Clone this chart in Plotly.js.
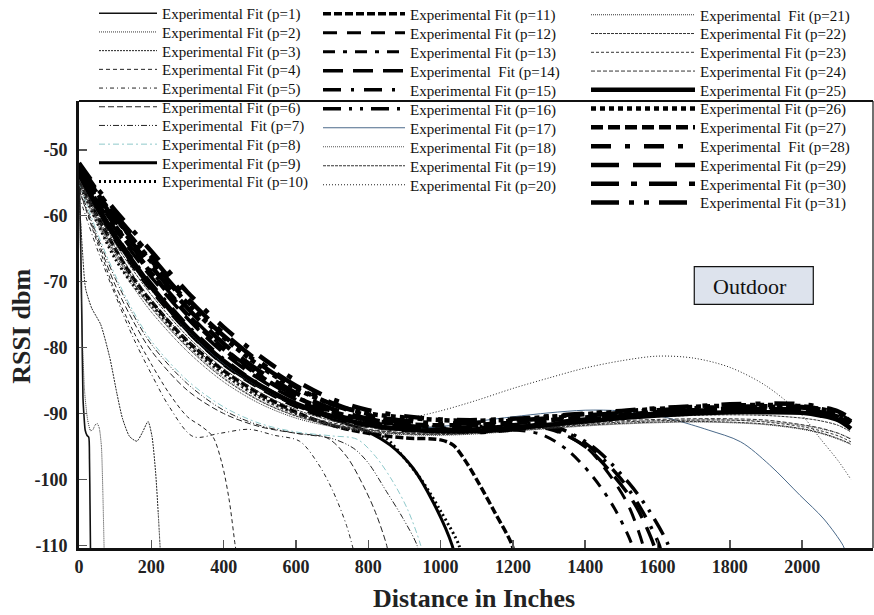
<!DOCTYPE html>
<html><head><meta charset="utf-8">
<script src="https://cdn.plot.ly/plotly-3.0.1.min.js"></script>
<style>html,body{margin:0;padding:0;background:#fff}#chart{width:874px;height:615px}</style>
</head><body><div id="chart"></div>
<script>
// ---------- DATA ----------
const xLong = [0, 50, 100, 150, 200, 300, 400, 500, 600, 700, 800, 900, 1000, 1100, 1200, 1300, 1400, 1500, 1600, 1700, 1800, 1900, 2000, 2050, 2100, 2135];

const p1_x = [0, 4, 8, 11, 14, 17, 22, 27, 29, 30.5, 32];
const p1_y = [-53, -62, -76, -87.6, -90.5, -92.5, -93.3, -93.6, -97, -104, -112];
const p2_x = [0, 5, 10, 16, 24, 32, 38, 44, 50, 56, 62, 66, 70];
const p2_y = [-54.5, -68, -80, -87, -91, -92.6, -92.5, -91.8, -91.5, -92.2, -95, -102, -112];
const p3_x = [0, 8, 18, 35, 60, 85, 105, 120, 140, 160, 176, 191, 202, 212, 219, 226];
const p3_y = [-57, -64, -71, -74, -76.5, -81.5, -87, -90.7, -93.5, -94.2, -92.8, -91.2, -93.5, -99, -105, -112];
const p4_x = [0, 50, 100, 150, 200, 250, 300, 340, 370, 395, 415, 432, 438];
const p4_y = [-56, -64, -71.5, -77.5, -82.5, -87, -90.5, -92, -93.5, -97.5, -103, -110, -112];
const p5_x = [0, 50, 100, 150, 200, 250, 316, 390, 470, 540, 610, 660, 700, 740, 765];
const p5_y = [-57, -65, -72, -78.5, -84, -89, -93.5, -93, -92.4, -93.3, -94.2, -97.5, -101.5, -107, -112];
const p6_x = [0, 50, 100, 150, 200, 300, 400, 500, 600, 686, 740, 786, 820, 851, 858];
const p6_y = [-56, -63.5, -70.5, -76, -80.5, -86.5, -90, -92, -93, -93.7, -96.5, -100.9, -105, -110, -112];
const p7_x = [0, 50, 100, 150, 200, 300, 400, 500, 600, 700, 760, 800, 850, 895, 935, 942];
const p7_y = [-55.5, -63, -69.5, -75, -79.5, -85.5, -89.5, -91.8, -93, -93.8, -95.3, -97.5, -101.8, -105.8, -110, -112];
const p8_x = [0, 50, 100, 150, 200, 300, 400, 500, 600, 700, 769, 820, 870, 910, 945, 952];
const p8_y = [-55, -62.5, -69, -74.5, -79, -85, -89, -91.5, -92.8, -93.4, -93.9, -96.5, -100.5, -104.7, -110, -112];
const p9_x = [0, 50, 100, 150, 200, 300, 400, 500, 600, 700, 796, 861, 924, 980, 1032, 1040];
const p9_y = [-54, -59, -63.5, -67.5, -71, -77.5, -82.5, -86, -88.7, -90.8, -92.7, -94.8, -98.3, -103.5, -110, -112];
const p10_x = [0, 50, 100, 150, 200, 300, 400, 500, 600, 700, 800, 850, 888, 950, 1000, 1051, 1058];
const p10_y = [-55, -61, -66.5, -70.5, -73.5, -79.5, -84, -87.5, -90, -91.8, -92.8, -93.8, -96, -100.3, -104.8, -110, -112];
const p11_x = [0, 50, 100, 150, 200, 300, 400, 500, 600, 700, 800, 900, 1000, 1035, 1070, 1109, 1150, 1198, 1205];
const p11_y = [-54.5, -60, -65, -69.5, -73, -79, -83.5, -87, -89.8, -91.8, -93, -93.7, -94, -94.8, -97.3, -100.9, -105, -110, -112];
const p12_x = [0, 50, 100, 150, 200, 300, 400, 500, 600, 700, 800, 900, 1000, 1100, 1200, 1300, 1400, 1470, 1520, 1560, 1568];
const p12_y = [-54, -59.2, -63.8, -67.8, -71.4, -77.6, -82.6, -86.2, -89, -90.9, -92, -92.6, -92.7, -92.5, -92.2, -92.4, -95, -99.5, -104, -110, -112];
const p13_x = [0, 50, 100, 150, 200, 300, 400, 500, 600, 700, 800, 900, 1000, 1100, 1200, 1280, 1350, 1420, 1480, 1530, 1538];
const p13_y = [-53.8, -59, -63.5, -67.5, -71, -77.3, -82.3, -86, -88.8, -90.7, -91.9, -92.5, -92.7, -92.6, -92.5, -93.2, -95.5, -99.5, -104.3, -110, -112];
const p14_x = [0, 50, 100, 150, 200, 300, 400, 500, 600, 700, 800, 900, 1000, 1100, 1200, 1300, 1400, 1480, 1540, 1590, 1598];
const p14_y = [-53.2, -57.8, -62, -65.8, -69.3, -75.6, -80.8, -84.8, -87.9, -90, -91.3, -92, -92.3, -92.2, -91.9, -92.2, -95, -99.5, -104, -110, -112];
const p15_x = [0, 50, 100, 150, 200, 300, 400, 500, 600, 700, 800, 900, 1000, 1100, 1200, 1300, 1400, 1500, 1560, 1605, 1612];
const p15_y = [-53.6, -58.4, -62.8, -66.7, -70.3, -76.6, -81.7, -85.6, -88.5, -90.5, -91.7, -92.3, -92.5, -92.3, -92, -92, -94.5, -100, -105, -110, -112];
const p16_x = [0, 50, 100, 150, 200, 300, 400, 500, 600, 700, 800, 900, 1000, 1100, 1200, 1300, 1420, 1520, 1580, 1630, 1638];
const p16_y = [-53, -57.3, -61.3, -65, -68.4, -74.7, -80, -84.2, -87.4, -89.7, -91.1, -91.8, -92.1, -92, -91.7, -91.7, -95, -100.5, -105, -110, -112];
const p17_x = [0, 50, 100, 150, 200, 300, 400, 500, 600, 700, 800, 900, 1000, 1100, 1200, 1300, 1400, 1500, 1600, 1650, 1740, 1830, 1910, 1994, 2060, 2113, 2120];
const p17_y = [-53.5, -58.6, -63.2, -67.3, -71, -77.4, -82.4, -86, -88.7, -90.6, -91.8, -92.3, -92, -91.2, -90.5, -89.9, -89.5, -89.6, -90.3, -91, -92.5, -94.3, -97.8, -102.4, -106, -110, -111];

const p18_y = [-55, -60.5, -65.5, -70, -73.8, -79.8, -84.5, -88, -90.3, -91.7, -92.5, -92.9, -93, -92.8, -92.4, -92, -91.6, -91.3, -91.1, -91, -91, -91.2, -91.8, -92.3, -93, -93.8];
const p19_y = [-54.5, -59.5, -64.2, -68.3, -72, -78.3, -83.2, -86.8, -89.4, -91.1, -92.1, -92.6, -92.8, -92.6, -92.2, -91.7, -91.2, -90.8, -90.5, -90.3, -90.2, -90.3, -90.7, -91.1, -91.8, -92.8];
const p20_y = [-54, -59, -63.6, -67.7, -71.3, -77.6, -82.6, -86.2, -88.8, -90.4, -91.2, -90.8, -89.6, -88, -86.2, -84.6, -83.1, -82, -81.3, -81.6, -83, -85.8, -90.3, -93.8, -97.2, -100];
const p21_y = [-55.5, -61.2, -66.3, -70.8, -74.6, -80.6, -85.2, -88.5, -90.7, -92, -92.8, -93.2, -93.3, -93.1, -92.7, -92.3, -91.9, -91.6, -91.4, -91.3, -91.4, -91.7, -92.4, -93, -93.9, -94.7];
const p22_y = [-55, -60.8, -65.8, -70.2, -74, -80, -84.7, -88.1, -90.4, -91.8, -92.7, -93.1, -93.2, -93, -92.6, -92.2, -91.8, -91.5, -91.3, -91.2, -91.3, -91.6, -92.3, -92.9, -93.8, -94.6];
const p23_y = [-54.8, -60.4, -65.3, -69.6, -73.4, -79.4, -84.2, -87.7, -90.1, -91.6, -92.5, -93, -93.1, -92.9, -92.5, -92.1, -91.7, -91.3, -91.1, -91, -91, -91.3, -92, -92.6, -93.4, -94.3];
const p24_y = [-54.5, -60, -64.8, -69, -72.8, -78.9, -83.8, -87.4, -89.9, -91.4, -92.4, -92.9, -93, -92.8, -92.4, -92, -91.5, -91.1, -90.9, -90.8, -90.8, -91, -91.7, -92.2, -93, -93.9];
const p25_y = [-53.5, -58.5, -63, -67, -70.7, -77, -82, -85.7, -88.5, -90.4, -91.7, -92.4, -92.7, -92.6, -92.2, -91.7, -91.2, -90.7, -90.3, -90, -89.8, -89.8, -89.9, -90.3, -91, -92.3];
const p26_y = [-52.3, -56.6, -60.3, -63.7, -67, -73.3, -78.5, -82.8, -86.2, -88.6, -90, -90.6, -91, -91.1, -90.9, -90.5, -90.1, -89.7, -89.3, -89, -88.8, -88.7, -88.9, -89.3, -90, -91.2];
const p27_y = [-53, -57.5, -61.5, -65.3, -68.7, -75, -80.2, -84.3, -87.5, -89.7, -91, -91.6, -91.8, -91.7, -91.4, -91, -90.6, -90.2, -89.8, -89.5, -89.3, -89.3, -89.5, -89.9, -90.6, -91.8];
const p28_y = [-52, -55.8, -59.2, -62.3, -65.4, -71.6, -76.9, -81.3, -85, -87.8, -89.5, -90.4, -90.9, -91, -90.8, -90.4, -90, -89.6, -89.2, -88.9, -88.6, -88.5, -88.6, -89, -89.7, -90.8];
const p29_y = [-52.5, -56.8, -60.7, -64.3, -67.7, -74, -79.4, -83.6, -86.9, -89.3, -90.8, -91.8, -92.5, -92.7, -92.2, -91.5, -90.9, -90.4, -90, -89.6, -89.4, -89.3, -89.4, -89.8, -90.5, -91.6];
const p30_y = [-52.2, -56.2, -59.8, -63, -66.2, -72.5, -77.8, -82.2, -85.8, -88.4, -90.2, -91.4, -92.3, -92.8, -92.4, -91.7, -91, -90.4, -89.9, -89.5, -89.2, -89, -89.1, -89.5, -90.2, -91.4];
const p31_y = [-52.4, -56.5, -60.2, -63.6, -66.8, -73, -78.2, -82.5, -86, -88.6, -90.3, -91.1, -91.5, -91.4, -91.1, -90.7, -90.3, -89.9, -89.5, -89.2, -89, -88.9, -89, -89.4, -90.1, -91.3];

const seriesX = [p1_x, p2_x, p3_x, p4_x, p5_x, p6_x, p7_x, p8_x, p9_x, p10_x, p11_x, p12_x, p13_x, p14_x, p15_x, p16_x, p17_x,
  xLong, xLong, xLong, xLong, xLong, xLong, xLong, xLong, xLong, xLong, xLong, xLong, xLong, xLong];
const seriesY = [p1_y, p2_y, p3_y, p4_y, p5_y, p6_y, p7_y, p8_y, p9_y, p10_y, p11_y, p12_y, p13_y, p14_y, p15_y, p16_y, p17_y,
  p18_y, p19_y, p20_y, p21_y, p22_y, p23_y, p24_y, p25_y, p26_y, p27_y, p28_y, p29_y, p30_y, p31_y];
const names = [];
for (let p = 1; p <= 31; p++) {
  const sp = (p === 7 || p === 14 || p === 21 || p === 28) ? '\u00a0 ' : ' ';
  names.push('Experimental' + sp + 'Fit (p=' + p + ')');
}
const xTicks = [0, 200, 400, 600, 800, 1000, 1200, 1400, 1600, 1800, 2000];
const xTickText = ['0', '200', '400', '600', '800', '1000', '1200', '1400', '1600', '1800', '2000'];
const yTicks = [-110, -100, -90, -80, -70, -60, -50];
const yTickText = ['-110', '-100', '-90', '-80', '-70', '-60', '-50'];
const xTitle = 'Distance in Inches';
const yTitle = 'RSSI dbm';
const boxLabel = 'Outdoor';

// ---------- STYLES ----------
const styles = [
  {w:1.6, d:'solid', c:'#111'},
  {w:1, d:'1px,1px', c:'#333'},
  {w:1, d:'2px,1px', c:'#222'},
  {w:1, d:'4px,3px', c:'#222'},
  {w:1, d:'4px,3px,1px,3px', c:'#222'},
  {w:1, d:'6px,3px', c:'#222'},
  {w:1, d:'6px,2px,1px,2px,1px,2px', c:'#222'},
  {w:1, d:'6px,3px,2px,3px', c:'#8fc9cb'},
  {w:3, d:'solid', c:'#000'},
  {w:3, d:'2px,3px', c:'#000'},
  {w:3.5, d:'8px,3px', c:'#000'},
  {w:3, d:'14px,10px', c:'#000'},
  {w:3, d:'12px,8px,4px,8px', c:'#000'},
  {w:3.5, d:'20px,10px', c:'#000'},
  {w:3.5, d:'18px,10px,3px,10px', c:'#000'},
  {w:3.5, d:'18px,8px,3px,8px,3px,8px', c:'#000'},
  {w:1, d:'solid', c:'#4b6a8a'},
  {w:1, d:'1px,1px', c:'#555'},
  {w:1, d:'3px,1px', c:'#333'},
  {w:1, d:'1px,2px', c:'#222'},
  {w:1, d:'1px,1px', c:'#333'},
  {w:1, d:'3px,1px', c:'#333'},
  {w:1, d:'3px,2px', c:'#333'},
  {w:1, d:'4px,2px', c:'#333'},
  {w:4.5, d:'solid', c:'#000'},
  {w:4.5, d:'5px,4px', c:'#000'},
  {w:4.5, d:'12px,5px', c:'#000'},
  {w:4.5, d:'20px,14px,5px,14px', c:'#000'},
  {w:4.5, d:'28px,14px', c:'#000'},
  {w:4.5, d:'28px,12px,6px,12px', c:'#000'},
  {w:4.5, d:'28px,10px,5px,10px,5px,10px', c:'#000'}
];

const W = 874, H = 615;
const colX = [94, 318, 586];
const colW = [58, 82, 104];
const rowY0 = [13.5, 14, 15];
const rowDy = [18.7, 19, 18.77];
const serif = 'Liberation Serif';
const bold = s => '<b>' + s + '</b>';

const traces = [];
const layout = {
  width: W, height: H,
  margin: {l: 79, r: 1, t: 101, b: 67, autoexpand: false},
  paper_bgcolor: '#fff', plot_bgcolor: '#fff',
  xaxis: {
    range: [0, 2196], tickmode: 'array', tickvals: xTicks, ticktext: xTickText.map(bold),
    ticks: 'inside', ticklen: 8, tickwidth: 1.5, tickcolor: '#555',
    showline: true, linewidth: 3, linecolor: '#111', showgrid: false, zeroline: false,
    tickfont: {family: serif, size: 18, color: '#222'}
  },
  yaxis: {
    range: [-110.4, -42.6], tickmode: 'array', tickvals: yTicks, ticktext: yTickText.map(bold),
    ticks: 'inside', ticklen: 8, tickwidth: 1.5, tickcolor: '#555', ticklabelstandoff: 5,
    showline: true, linewidth: 3, linecolor: '#111', showgrid: false, zeroline: false,
    tickfont: {family: serif, size: 18, color: '#222'}
  },
  shapes: [
    {type: 'line', xref: 'paper', yref: 'paper', x0: 0, x1: 1, y0: 1, y1: 1, line: {color: '#111', width: 2}},
    {type: 'line', xref: 'paper', yref: 'paper', x0: 1, x1: 1, y0: 0, y1: 1, line: {color: '#111', width: 1.2}},
    {type: 'rect', xref: 'paper', yref: 'paper', x0: 0.7749, x1: 0.9248, y0: 0.5452, y1: 0.6293,
     fillcolor: '#dde3ed', line: {color: '#111', width: 1.2}}
  ],
  annotations: [
    {xref: 'paper', yref: 'paper', x: 0.8457, y: 0.5861, xanchor: 'center', yanchor: 'middle',
     text: boxLabel, showarrow: false, font: {family: serif, size: 22, color: '#111'}},
    {xref: 'paper', yref: 'paper', x: 0.4969, y: -0.1119, xanchor: 'center', yanchor: 'middle',
     text: bold(xTitle), showarrow: false, font: {family: serif, size: 26, color: '#222'}},
    {xref: 'paper', yref: 'paper', x: -0.0718, y: 0.497, xanchor: 'center', yanchor: 'middle', textangle: -90,
     text: bold(yTitle), showarrow: false, font: {family: serif, size: 26, color: '#222'}}
  ],
  showlegend: true
};

for (let i = 0; i < 31; i++) {
  const p = i + 1;
  const col = p <= 10 ? 0 : (p <= 20 ? 1 : 2);
  const row = p - col * 10 - 1;
  const key = p === 1 ? 'legend' : 'legend' + p;
  const yc = rowY0[col] + rowDy[col] * row;
  layout[key] = {
    xref: 'container', yref: 'container',
    x: colX[col] / W, y: 1 - yc / H, xanchor: 'left', yanchor: 'middle',
    bgcolor: 'rgba(0,0,0,0)', borderwidth: 0, itemwidth: colW[col],
    font: {family: serif, size: 15, color: '#111'}
  };
  const s = styles[i];
  traces.push({
    type: 'scatter', mode: 'lines', name: names[i],
    x: seriesX[i], y: seriesY[i], legend: key,
    line: {color: s.c, width: s.w, dash: s.d, shape: 'spline', smoothing: (p <= 3 ? 0.6 : 0.9)},
    hoverinfo: 'skip'
  });
}

Plotly.newPlot('chart', traces, layout, {displayModeBar: false, staticPlot: true});
</script>
</body></html>
